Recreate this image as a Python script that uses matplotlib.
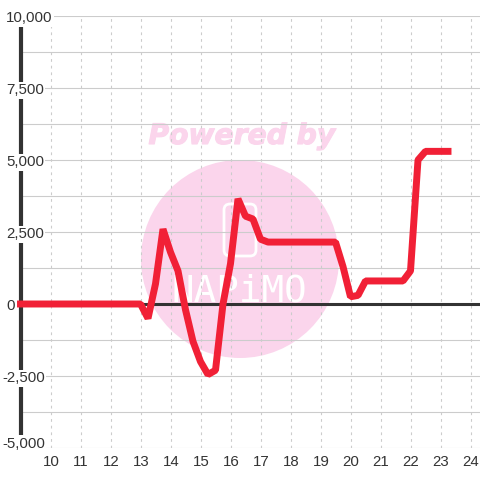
import matplotlib
matplotlib.use("Agg")
import matplotlib.pyplot as plt
import matplotlib.patheffects as pe
from matplotlib.patches import Circle, FancyBboxPatch
from matplotlib.transforms import ScaledTranslation

values = ([0] * 17 +
          [-500, 700, 2600, 1800, 1150, -200, -1300, -2000, -2450, -2300, 0, 1400, 3650, 3050, 2950, 2250] +
          [2150] * 10 +
          [1300, 250, 300, 800, 800, 800, 800, 800, 800, 1150, 5000, 5300, 5300, 5300, 5300])
hours = [9 + 0.25 * i for i in range(len(values))]
xticks = list(range(10, 25))
ymajor = [10000, 7500, 5000, 2500, 0, -2500, -5000]
ymajor_labels = ["10,000", "7,500", "5,000", "2,500", "0", "-2,500", "-5,000"]
yminor = [8750, 6250, 3750, 1250, -1250, -3750]

plt.rcParams['font.family'] = 'Liberation Sans'
fig = plt.figure(figsize=(4.8, 4.8), dpi=100)
L, R, T, B = 20.5, 480, 16, 448
ax = fig.add_axes([L / 480, 1 - B / 480, (R - L) / 480, (B - T) / 480])
ax.set_xlim(10 + (L - 50.5) / 30, 10 + (R - 50.5) / 30)
ax.set_ylim(-5000, 10000)
for s in ax.spines.values():
    s.set_visible(False)
ax.patch.set_alpha(0)

GRID = '#cccccc'
INK = '#333333'
PINK = '#fbd5ec'

over = fig.add_axes([0, 0, 1, 1], zorder=-1)
over.set_xlim(0, 480); over.set_ylim(480, 0); over.axis('off')
over.add_patch(Circle((240, 259), 99, fc=PINK, ec='none'))
over.add_patch(FancyBboxPatch((224, 204), 32, 52, boxstyle='round,pad=0,rounding_size=6', fc='none', ec='white', lw=2))
over.text(239, 291, "NAPiMO", color='white', fontsize=27, ha='center', va='center', family='DejaVu Sans Mono')
over.text(242, 136, "Powered by", color=PINK, fontsize=20.3, ha='center', va='center',
          family='DejaVu Sans', weight='bold', style='italic',
          path_effects=[pe.withStroke(linewidth=0.8, foreground=PINK)])

ax.hlines(ymajor + yminor, *ax.get_xlim(), color=GRID, lw=0.8, zorder=1)
ax.vlines(xticks, -5000, 10000, color=GRID, lw=0.8, linestyles=(0, (2.5, 3.5)), zorder=1)
ax.axhline(0, color=INK, lw=2.2, zorder=2)
ax.axvline(ax.get_xlim()[0], ymin=0.03, ymax=0.981, color=INK, lw=3, zorder=2, clip_on=False)

ax.set_xticks(xticks)
ax.set_yticks([])
ax.tick_params(axis='x', length=0, pad=5, labelsize=10.8, labelcolor=INK)
for lab in ax.get_xticklabels():
    lab.set_transform(lab.get_transform() + ScaledTranslation(0.5 / 100, 0, fig.dpi_scale_trans))

ax.plot(hours, values, color='#f12036', lw=5, solid_capstyle='projecting', solid_joinstyle='bevel', zorder=5, clip_on=False)

for v, lab in zip(ymajor, ymajor_labels):
    xoff = 6 if v >= 0 else 2
    # the lowest label sits above its gridline so that it stays inside the chart
    yoff = 3.2 if v == -5000 else -1.6
    ax.annotate(lab, xy=(0, v), xycoords=('figure pixels', 'data'), xytext=(xoff * 0.72, yoff),
                textcoords='offset points', ha='left', va='center', fontsize=10.8, color=INK,
                bbox=dict(fc='white', ec='none', pad=1), zorder=4, annotation_clip=False)

fig.savefig('out.png', dpi=100, facecolor='white')
